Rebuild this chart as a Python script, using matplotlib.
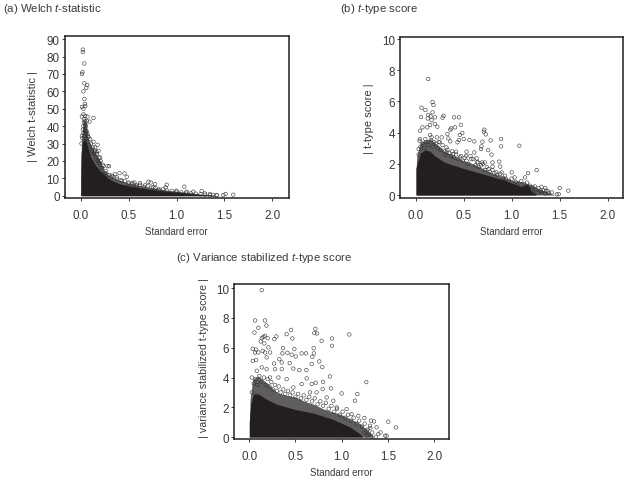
import matplotlib
matplotlib.use("Agg")
import matplotlib.pyplot as plt

plt.rcParams['font.family'] = ['Liberation Sans', 'DejaVu Sans']
plt.rcParams['mathtext.fontset'] = 'custom'
plt.rcParams['mathtext.it'] = 'Liberation Sans:italic'
plt.rcParams['mathtext.rm'] = 'Liberation Sans'

W, H = 628, 481
INK = '#231f20'
TXT = '#3a3a3a'

# ---- panel (a) ----
a_core_x = [.002, .006, .02, .05, .08, .1, .15, .2, .3, .4, .5, .7, .9, 1.1, 1.2, 1.3, 1.45]
a_core_y = [10, 24, 31, 33, 27, 23, 18, 14.5, 9.5, 7, 5.7, 3.8, 2.6, 1.7, 1.1, .5, 0]
a_fringe_x = [.004, .01, .03, .06, .08, .1, .15, .2, .25, .3, .4, .5, .7, .9, 1.1, 1.25, 1.4]
a_fringe_y = [15, 32, 44, 42, 33, 30, 25, 20, 14, 11.5, 9, 7.2, 5, 3.2, 2, .9, .3]
a_x = [.024, .024, .04, .02, .015, .04, .07, .06, .03, .04, .045, .015, .05, .03, .135, .094, .066, .014, .049, .073, .031,
       .014, .073, .083, .1, .135, .177, .153, .187, .146, .17, .204, .198, .232, .281, .298, .263, .36, .406, .458,
       .482, .43, .378, .326, .5, .562, .62, .707, .731, .776, .672, .898, .887, 1.081, 1.0, 1.262, 1.591, 1.511,
       1.487, 1.418, 1.348, 1.296, 1.175, 1.106, .811, .759, .586, .544, .03, .045, .06, .035, .05, .12, .16, .19, .22, .25]
a_y = [84, 82.6, 76, 71, 70, 64.6, 63.6, 62, 60, 55.6, 52.8, 51, 51.6, 50, 44.7, 42.6, 43, 45.5, 45.9, 45.5, 46.8,
       34.4, 35.4, 33.5, 32.5, 31, 29.3, 27.7, 25.8, 24.9, 23.9, 22, 19.1, 17.8, 17, 17, 14.3, 12.4, 13, 12.8,
       10.9, 8.6, 10.5, 11.5, 7.6, 7.6, 7.3, 8, 7.6, 6.7, 6.1, 6.3, 4.8, 5.2, 2.9, 2.7, .6, 1, .4, .4, 1, 1.3, 2.3, 2.3,
       3.4, 4.8, 5.7, 6.7, 40, 38, 36, 42, 41, 24, 21, 19, 16, 13]
a_edge_x = [.01, .02, .025, .03, .035, .04, .045, .05, .055, .06, .065, .07, .08, .09, .1, .11, .12, .13, .14, .15, .16, .17,
            .18, .19, .2, .21, .22, .24, .26, .28, .3, .32, .34, .38, .42, .46, .5, .54, .58, .62, .66, .7, .74, .78, .82,
            .86, .9, .95, 1.0, 1.05, 1.1, 1.15, 1.2, 1.25, 1.3, 1.35, 1.38, 1.42]
a_edge_y = [30, 33, 38, 36, 44, 34, 43, 37, 40, 33, 37, 31, 34, 29, 27, 30, 26, 28, 24, 26, 22, 25,
            20, 22, 18, 20, 16, 17, 13, 12, 12, 10.5, 11, 9.5, 9, 8.5, 7, 7.4, 6, 6.3, 5.2, 5.5, 4.7, 4.5, 3.6,
            3.8, 3.0, 2.8, 2.3, 2.0, 1.8, 1.4, 1.2, .9, .6, .3, .5, .2]

# ---- panel (b) ----
b_core_x = [.002, .02, .05, .1, .15, .2, .3, .5, .7, .9, 1.1, 1.17, 1.2, 1.25]
b_core_y = [1.7, 2.1, 2.7, 2.9, 2.8, 2.5, 2.1, 1.7, 1.35, 1.0, .55, .7, .3, .05]
b_fringe_x = [.004, .01, .05, .15, .25, .3, .4, .5, .6, .7, .8, .9, 1.0, 1.1, 1.2, 1.3, 1.4, 1.45]
b_fringe_y = [1.7, 2.5, 3.4, 3.6, 3.1, 2.8, 2.5, 2.2, 2.0, 1.7, 1.4, 1.2, .95, .85, .65, .35, .12, 0]
b_x = [.13, .06, .10, .055, .175, .185, .175, .13, .155, .125, .2, .165, .29, .28, .40, .45, .47, .41, .37, .36, .33,
       .485, .46, .34, .36, .45, .435, .50, .56, .61, .715, .71, .73, .695, .685, .68, .755, .78, .79, .89, .89, 1.08,
       1.26, 1.17, 1.0, .87, .80, .80, .88, .895, 1.5, 1.59, 1.49, 1.47, 1.42, 1.38, 1.35, 1.31, 1.36, 1.3, 1.24, 1.14,
       .72, .69, .635, .61, .53, .525, .42, .32, .27, .22, .12, .07, .045, .2, .225, .15, .045, .15, .03, .04, .1, .165,
       .25, .32, .39, .46, .58, .65, .76, .84, .93, 1.03]
b_y = [7.44, 5.6, 5.45, 5.0, 5.96, 5.77, 5.3, 5.13, 5.04, 4.91, 4.98, 4.8, 5.08, 4.96, 4.98, 4.98, 4.5, 4.34, 4.27, 4.19, 3.91,
       3.97, 3.85, 3.63, 3.44, 3.53, 3.38, 3.59, 3.53, 3.44, 4.19, 4.06, 3.89, 3.42, 3.12, 2.95, 2.88, 3.5, 2.59, 3.59, 3.12, 3.16,
       1.6, 1.41, 1.45, 2.14, 2.09, 1.82, 1.82, 1.45, .45, .28, .06, .04, .17, .24, .45, .53, .28, .28, .55, 1.13,
       2.09, 2.09, 2.35, 2.73, 2.78, 2.52, 2.78, 2.73, 3.7, 3.7, 4.34, 4.34, 4.12, 4.55, 4.38, 4.49, 3.59, 3.85, 2.95, 3.48, 3.59, 3.7,
       3.38, 3.05, 2.63, 2.41, 2.3, 2.09, 1.67, 1.45, 1.24, 1.13]
b_edge_x = [.03, .05, .07, .09, .11, .13, .16, .18, .19, .21, .23, .24, .26, .28, .3, .31, .33, .35, .37, .38, .4, .42, .44,
            .47, .49, .51, .53, .55, .57, .6, .62, .64, .66, .68, .7, .72, .74, .77, .8, .82, .85, .88, .91, .94, .97, 1.0,
            1.04, 1.07, 1.1, 1.13, 1.16, 1.19, 1.22, 1.25, 1.28, 1.31, 1.33, 1.27, 1.22, 1.35, 1.39]
b_edge_y = [2.6, 3.1, 3.3, 3.0, 3.4, 3.2, 3.5, 3.1, 3.4, 3.3, 3.0, 3.4, 2.9, 3.2, 2.8, 2.6, 2.9, 2.7, 2.5, 2.8, 2.4, 2.6, 2.3,
            2.5, 2.2, 2.4, 2.2, 2.0, 2.5, 2.3, 1.9, 2.1, 1.8, 1.9, 2.0, 1.6, 1.8, 1.5, 1.6, 1.4, 1.3, 1.35, 1.1, 1.05, .9, 1.05,
            .85, .75, .9, .7, .8, .6, .5, .35, .45, .2, .3, .15, .2, .1, .12]

# ---- panel (c) ----
c_core_x = [.002, .02, .05, .1, .2, .3, .5, .7, .9, 1.1, 1.2, 1.23]
c_core_y = [1.0, 2.3, 2.9, 2.9, 2.5, 2.2, 1.85, 1.6, 1.2, .65, .2, 0]
c_fringe_x = [.004, .01, .04, .1, .2, .3, .4, .5, .6, .7, .8, .9, 1.0, 1.1, 1.2, 1.3, 1.35]
c_fringe_y = [1.0, 2.5, 3.9, 4.1, 3.6, 3.0, 2.8, 2.7, 2.4, 2.2, 1.9, 1.7, 1.5, 1.2, .9, .35, 0]
c_x = [.137, .065, .173, .10, .187, .058, .155, .173, .137, .126, .2, .295, .273, .406, .453, .468, .716, .705, .734, .784,
       .896, .896, 1.083, .165, .209, .04, .076, .065, .1, .147, .173, .227, .367, .36, .414, .489, .46, .504, .568, .615,
       .698, .70, .683, .676, .759, .791, .874, 1.266, .799, .719, .676, .622, .619, .543, .478, .439, .327, .27, .353, .353,
       .28, .19, .076, .04, .885, .795, 1.0, 1.17, 1.144, 1.504, 1.586, 1.486, 1.47, 1.42, 1.396, 1.37, 1.317, 1.27, 1.35,
       1.317, 1.245, 1.378, 1.306, 1.27, .03, .083, .137, .19, .227, .317, .406, .478, .568, .658, .73, .838, .91, .946,
       1.054, 1.108, 1.18]
c_y = [9.87, 7.83, 7.83, 7.34, 7.49, 7.02, 6.73, 6.8, 6.64, 6.42, 6.64, 6.76, 6.58, 6.91, 7.2, 6.62, 7.27, 6.98, 6.96, 6.47,
       6.62, 6.13, 6.89, 6.29, 6.02, 5.93, 5.88, 5.68, 5.68, 5.79, 5.68, 5.68, 5.97, 5.62, 5.66, 5.91, 5.53, 5.41, 5.62, 5.62,
       5.97, 5.62, 5.39, 4.9, 5.08, 4.7, 4.07, 3.69, 3.71, 3.65, 3.56, 3.94, 4.5, 4.5, 4.6, 4.97, 5.23, 4.94, 5.01, 4.56,
       4.56, 5.35, 5.17, 5.12, 3.27, 3.22, 2.93, 2.89, 2.44, 1.03, .65, .09, .09, .31, .2, .02, .02, .09, 1.05,
       1.1, 1.28, .65, .76, .43, 4.0, 4.45, 4.68, 4.56, 4.0, 4.0, 3.89, 3.33, 3.56, 3.0, 3.0, 2.66, 2.44, 1.99,
       1.88, 1.54, 1.43]
c_edge_x = [.03, .05, .07, .09, .11, .13, .16, .18, .2, .22, .24, .26, .28, .3, .32, .34, .37, .39, .42, .44, .47, .5, .53,
            .56, .59, .62, .65, .68, .71, .74, .77, .8, .83, .86, .89, .92, .95, .98, 1.01, 1.04, 1.07, 1.1, 1.13, 1.16,
            1.19, 1.22, 1.25, 1.28, 1.31, 1.33, 1.24, 1.29]
c_edge_y = [3.0, 3.6, 3.9, 3.5, 4.1, 3.7, 4.0, 3.5, 3.9, 3.4, 3.7, 3.2, 3.5, 3.1, 3.4, 3.0, 3.2, 2.9, 3.1, 2.8, 3.0, 2.7, 2.9,
            2.6, 2.8, 2.5, 2.7, 2.4, 2.6, 2.2, 2.4, 2.1, 2.3, 1.9, 2.1, 1.7, 1.9, 1.5, 1.7, 1.3, 1.5, 1.1, 1.3, .9,
            1.1, .7, .9, .5, .6, .3, .3, .15]

x_ticks = [0.0, 0.5, 1.0, 1.5, 2.0]
a_ticks = [0, 10, 20, 30, 40, 50, 60, 70, 80, 90]
bc_ticks = [0, 2, 4, 6, 8, 10]


def panel(fig, box, xlim, ylim, yticks, ylabel, ysize, ylab_px, ylab_frac, cx, cy, fx, fy, px, py, ex, ey):
    l, t, r, b = box
    ax = fig.add_axes([l / W, 1 - b / H, (r - l) / W, (b - t) / H])
    ax.fill_between(fx, 0, fy, color=INK, alpha=.72, lw=0, zorder=1)
    ax.fill_between(cx, 0, cy, color=INK, lw=0, zorder=2)
    ax.scatter(px + ex, py + ey, s=6.5, facecolors='none', edgecolors='#333333', linewidths=.4, zorder=3)
    ax.set_xlim(*xlim)
    ax.set_ylim(*ylim)
    ax.set_xticks(x_ticks, [f'{v:.1f}' for v in x_ticks])
    ax.set_yticks(yticks)
    ax.tick_params(labelsize=8.4, length=2.5, width=.7, color=TXT, labelcolor=TXT)
    ax.tick_params(axis='x', pad=5.5)
    ax.tick_params(axis='y', pad=1)
    ax.set_xlabel('Standard error', fontsize=7.0, color=TXT, labelpad=3.5)
    ax.set_ylabel(ylabel, fontsize=ysize, color=TXT)
    ax.yaxis.set_label_coords((ylab_px - l) / (r - l), ylab_frac)
    for s in ax.spines.values():
        s.set_linewidth(1.1)
        s.set_color(INK)
    return ax


fig = plt.figure(figsize=(W / 100, H / 100), dpi=100)
panel(fig, (64.5, 36.5, 288.5, 199), (-.167, 2.167), (-1.3, 92.1), a_ticks, '| Welch t-statistic |', 8.1, 38, .51,
      a_core_x, a_core_y, a_fringe_x, a_fringe_y, a_x, a_y, a_edge_x, a_edge_y)
panel(fig, (400, 38, 623, 198.7), (-.164, 2.16), (-.17, 10.13), bc_ticks, '| t-type score |', 8.0, 374, .5,
      b_core_x, b_core_y, b_fringe_x, b_fringe_y, b_x, b_y, b_edge_x, b_edge_y)
panel(fig, (233.7, 284.7, 449.3, 440.3), (-.166, 2.163), (-.15, 10.3), bc_ticks, '| variance stabilized t-type score |', 7.7, 209, .53,
      c_core_x, c_core_y, c_fringe_x, c_fringe_y, c_x, c_y, c_edge_x, c_edge_y)

fig.text(3 / W, 1 - 8.5 / H, r'(a) Welch $\mathit{t}$-statistic', fontsize=8.2, color=TXT, va='center')
fig.text(340 / W, 1 - 8.5 / H, r'(b) $\mathit{t}$-type score', fontsize=8.2, color=TXT, va='center')
fig.text(176 / W, 1 - 258 / H, r'(c) Variance stabilized $\mathit{t}$-type score', fontsize=8.2, color=TXT, va='center')

fig.savefig('out.png', dpi=100)
